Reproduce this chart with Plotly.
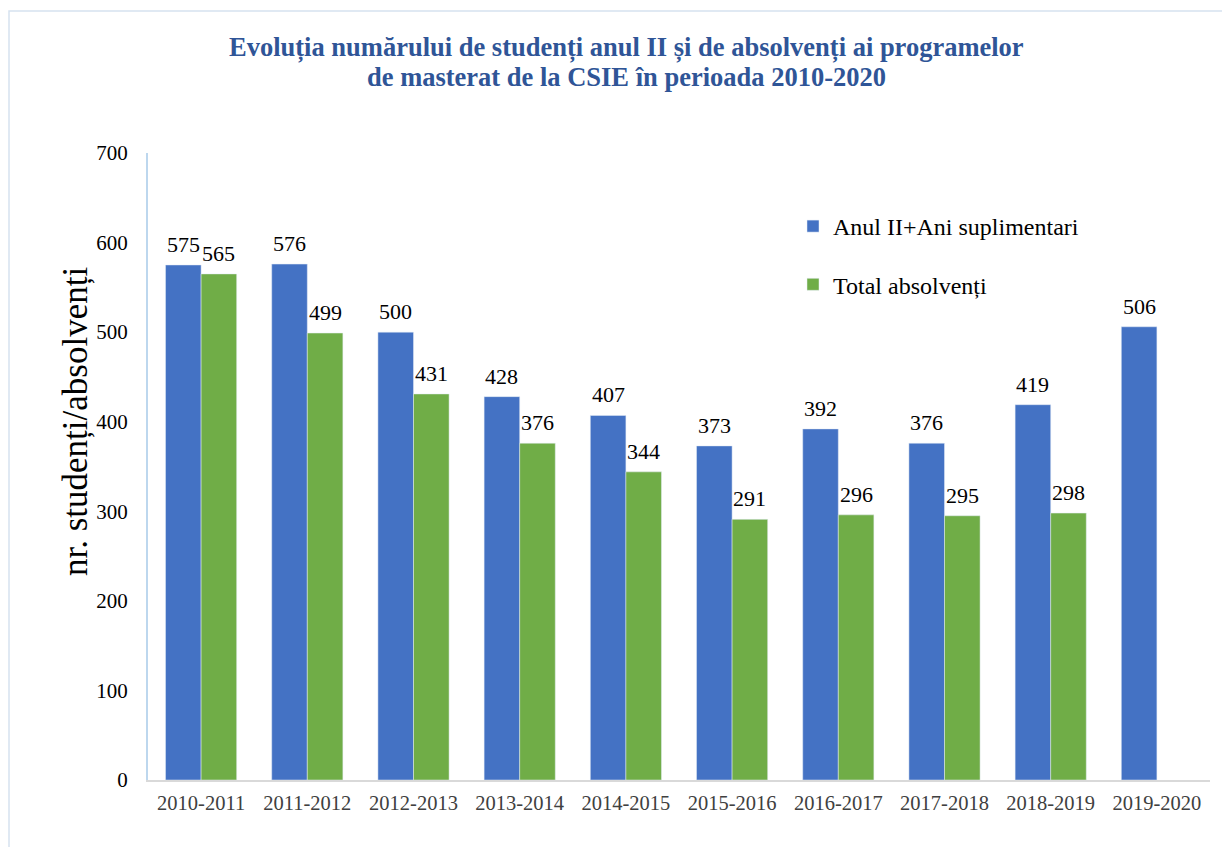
import plotly.graph_objects as go

years = ["2010-2011", "2011-2012", "2012-2013", "2013-2014", "2014-2015",
         "2015-2016", "2016-2017", "2017-2018", "2018-2019", "2019-2020"]
anul_ii = [575, 576, 500, 428, 407, 373, 392, 376, 419, 506]
absolventi = [565, 499, 431, 376, 344, 291, 296, 295, 298, None]

title_lines = [
    "Evoluția numărului de studenți anul II și de absolvenți ai programelor",
    "de masterat de la CSIE în perioada 2010-2020",
]

BLUE = "#4472C4"
GREEN = "#70AD47"
FONT = "Liberation Serif"

# page offset of the figure (body margin) and plot area in page pixels
OFF = 8
L, RGT, T, BOT = 148, 1210, 153, 780
W, H = 1230 - OFF, 847 - OFF
PW, PH = RGT - L, BOT - T
BARGAP = 0.33
HALF_BAR = PW / len(years) * (1 - BARGAP) / 4  # centre of each bar within a group


def px_x(p):
    return (p - L) / PW


def px_y(p):
    return (BOT - p) / PH


fig = go.Figure()
fig.add_trace(go.Bar(
    x=years, y=anul_ii, name="Anul II+Ani suplimentari",
    marker_color=BLUE, legendgroup="a", hoverinfo="x+y",
))
fig.add_trace(go.Bar(
    x=years, y=absolventi, name="Total absolvenți",
    marker_color=GREEN, legendgroup="b", hoverinfo="x+y",
))

# value labels, a little higher above the bars than plotly's outside text
for vals, shift in [(anul_ii, -HALF_BAR), (absolventi, HALF_BAR)]:
    for yr, v in zip(years, vals):
        if v is None:
            continue
        fig.add_annotation(
            x=yr, y=v, text=str(v), showarrow=False, xanchor="center", yanchor="bottom",
            xshift=shift, yshift=6, font={"size": 22, "color": "black", "family": FONT},
        )

fig.add_shape(type="rect", xref="paper", yref="paper",
              x0=px_x(9), x1=px_x(1228), y0=px_y(860), y1=px_y(11),
              line={"color": "#D6E2F0", "width": 1.5}, fillcolor="rgba(0,0,0,0)")

# title, two lines set a bit tighter than plotly's <br> spacing
for line, ypix in zip(title_lines, [48, 77]):
    fig.add_annotation(
        text=f"<b>{line}</b>", xref="paper", yref="paper",
        x=px_x(626), y=px_y(ypix), xanchor="center", yanchor="middle",
        showarrow=False, font={"size": 26.5, "color": "#2F5597", "family": FONT},
    )

# y axis title sits above the axis middle in the original
fig.add_annotation(
    text="nr. studenți/absolvenți", textangle=-90, xref="paper", yref="paper",
    x=px_x(75), y=px_y(422), xanchor="center", yanchor="middle",
    showarrow=False, font={"size": 35, "color": "black", "family": FONT},
)

fig.update_layout(
    width=W, height=H,
    margin={"l": L - OFF, "r": W - (RGT - OFF), "t": T - OFF, "b": H - (BOT - OFF)},
    paper_bgcolor="white", plot_bgcolor="white",
    barmode="group", bargap=BARGAP, bargroupgap=0,
    font={"family": FONT, "color": "black"},
    xaxis={
        "showgrid": False, "showline": True, "linecolor": "#D9D9D9", "linewidth": 1.5,
        "ticks": "", "tickfont": {"size": 20.5, "color": "#404040", "family": FONT},
        "ticklabelstandoff": 4,
    },
    yaxis={
        "range": [0, 700], "dtick": 100, "showgrid": False,
        "showline": True, "linecolor": "#BDD7EE", "linewidth": 2,
        "ticks": "", "tickfont": {"size": 21, "color": "black", "family": FONT},
        "ticklabelstandoff": 14,
        "zeroline": False,
    },
    legend={
        "x": px_x(793), "y": px_y(204), "xanchor": "left", "yanchor": "top",
        "font": {"size": 24}, "tracegroupgap": 24, "bgcolor": "rgba(0,0,0,0)",
    },
    showlegend=True,
)

fig.write_html("out.html")
